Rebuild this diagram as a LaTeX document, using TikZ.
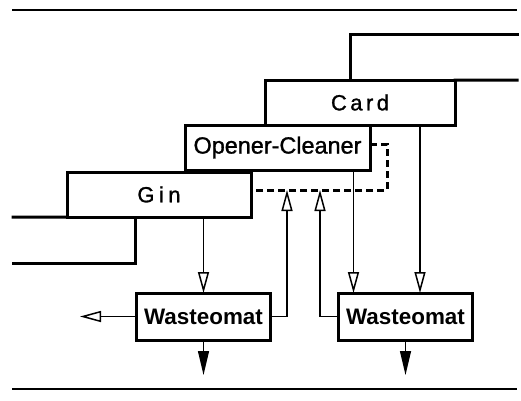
\documentclass[tikz,border=0pt]{standalone}
\usepackage{fontspec}
\setmainfont{Liberation Sans}
\newfontfamily\medfont[FakeBold=1.2]{Liberation Sans}
\usetikzlibrary{arrows.meta,calc}
\begin{document}
\begin{tikzpicture}[x=1bp,y=-1bp,outer sep=0pt,
  machine/.style={draw,line width=3bp,fill=white,inner sep=0pt,font=\medfont\fontsize{22}{24}\selectfont},
  wastebox/.style={draw,line width=3bp,fill=white,inner sep=0pt,minimum width=134bp,minimum height=47bp,font=\bfseries\fontsize{22.5}{24}\selectfont},
  stepline/.style={line width=3bp,line cap=rect},
  rule/.style={line width=2bp},
  feed/.style={line width=1.2bp,-{Triangle[open,width=11bp,length=21bp,line width=1.5bp]}},
  outflow/.style={line width=1.2bp,-{Triangle[width=11bp,length=24bp]}},
  vacuum/.style={line width=3bp,dash pattern=on 7bp off 4bp}]
\useasboundingbox (0,0) rectangle (521,400);
% frame rules
\draw[rule] (12,10) -- (517,10);
\draw[rule] (12,389) -- (517,389);
% machines
\node[machine,minimum width=190bp,minimum height=45bp] (card) at (360,102.5) {C\kern3.5bp a\kern3.5bp r\kern3.5bp d};
\node[machine,minimum width=185bp,minimum height=45bp,font=\medfont\fontsize{23.5}{26}\selectfont] (op) at (277.5,147.5) {Opener-Cleaner};
\node[machine,minimum width=184bp,minimum height=45bp] (gin) at (159,194.5) {G\kern4.5bp i\kern4.5bp n};
\node[wastebox] (w1) at (203.5,316.5) {Wasteomat};
\node[wastebox] (w2) at (405.5,316.5) {Wasteomat};
% step lines
\draw[stepline] (card.north east) -- (517,80);
\draw[stepline] (350,80) -- (350,34) -- (517,34);
\draw[stepline] (gin.south west) -- (13,217);
\draw[stepline] (135,217) -- (135,263) -- (13,263);
% vacuum duct (dashed)
\coordinate (dA) at (387,144);
\coordinate (dB) at (387,190);
\draw[vacuum] (op.east |- dA) -- (dA) -- (dB) -- (gin.east |- dB);
% feeds into wasteomats
\draw[feed] (w1.north |- gin.south) -- (w1.north);
\draw[feed] ([xshift=15bp]w2.north west |- op.south) -- ([xshift=15bp]w2.north west);
\draw[feed] ([xshift=-35bp]card.south east) -- ([xshift=-35bp]card.south east |- w2.north);
% returns from wasteomats
\coordinate (r1) at (287,190);
\coordinate (r2) at (320,190);
\draw[feed] (w1.east) -- (r1 |- w1.east) -- (r1);
\draw[feed] (w2.west) -- (r2 |- w2.west) -- (r2);
% outputs
\coordinate (o1) at (80,316.5);
\draw[feed] (w1.west) -- (o1);
\coordinate (o2) at (0,375);
\draw[outflow] (w1.south) -- (w1.south |- o2);
\draw[outflow] (w2.south) -- (w2.south |- o2);
\end{tikzpicture}
\end{document}
